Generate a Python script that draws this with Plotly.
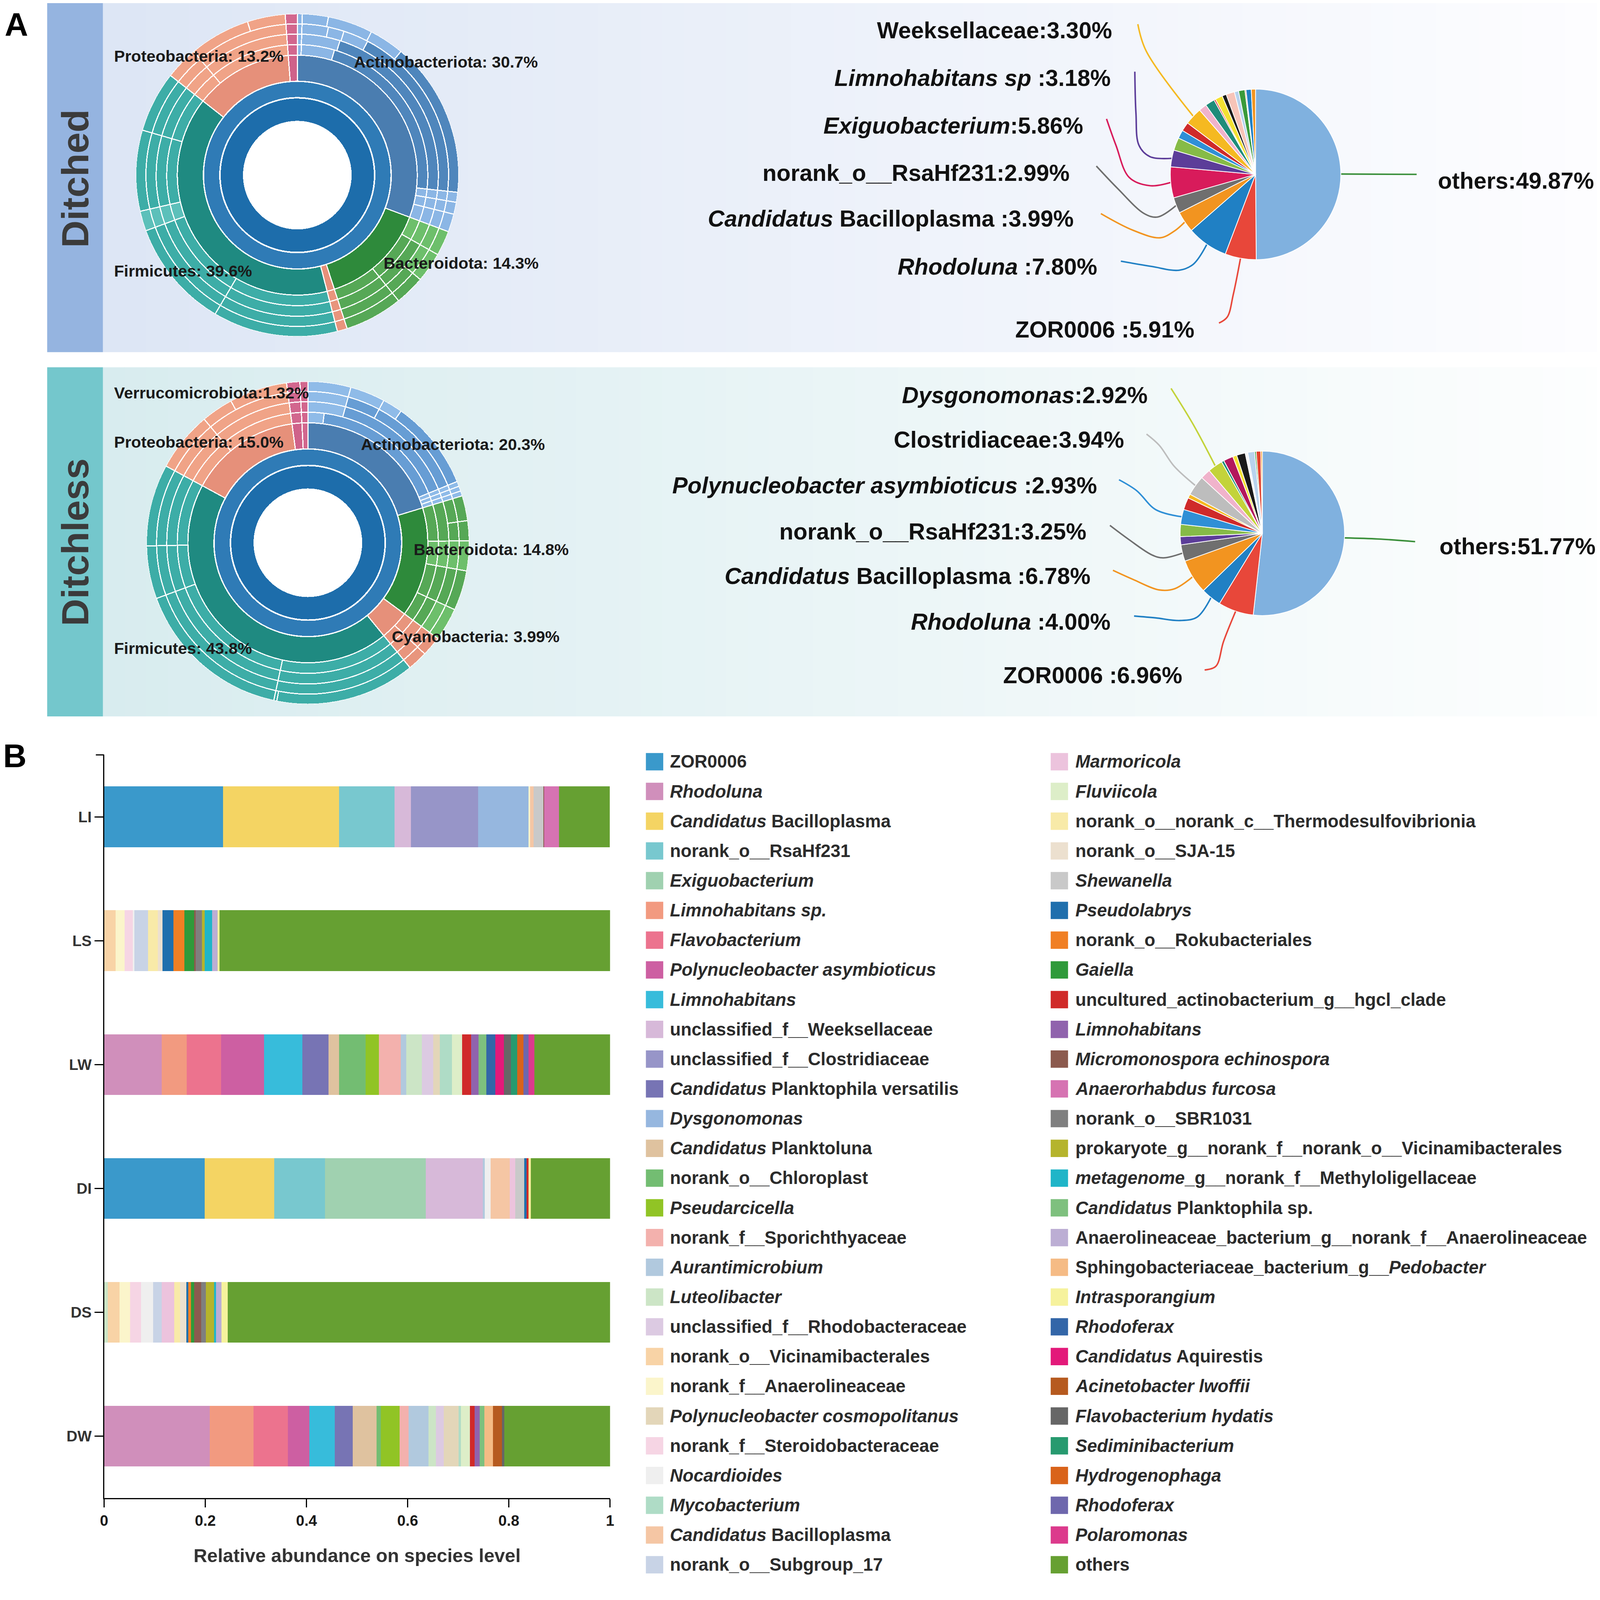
import math
import plotly.graph_objects as go

W, H = 4239, 4187          # reference pixel frame used for all geometry below
S = 4096 / 4239            # css-pixel scale of the browser viewport
PAGE_MARGIN = 8            # default body margin of the html page (css px)
FIG_W = 4096 - PAGE_MARGIN
FIG_H = round(H * S) - PAGE_MARGIN
X_GAIN, X_OFF = 0.9951, 8.4   # measured horizontal mapping of the screenshot

# =============================== DATA ===============================
# ---- Panel A: phylum composition (percent), clockwise from 12 o'clock
PHYLA = ["Actinobacteriota", "Bacteroidota", "Cyanobacteria", "Firmicutes",
         "Proteobacteria", "Verrucomicrobiota", "Unassigned"]
DITCHED_PHYLUM_PCT = [30.7, 14.3, 1.0, 39.6, 13.2, 1.2, 0.0]
DITCHLESS_PHYLUM_PCT = [20.3, 14.8, 3.99, 43.8, 15.0, 1.32, 0.79]

# sub-divisions of every phylum in the four outer (lower-rank) rings, percent
DITCHED_OUTER = {
    "Actinobacteriota": [[0.5, 4.1, 22.1, 1.0, 1.2, 1.8],
                         [0.5, 4.4, 21.8, 1.0, 1.2, 1.8],
                         [0.5, 2.8, 1.7, 2.7, 19.0, 1.0, 1.2, 1.8],
                         [0.5, 2.6, 4.5, 3.5, 15.6, 1.0, 1.2, 1.8]],
    "Bacteroidota": [[2.5, 6.0, 5.8], [2.5, 6.0, 5.8],
                     [2.5, 3.0, 3.0, 5.8], [2.5, 3.0, 3.0, 5.8]],
    "Cyanobacteria": [[1.0], [1.0], [1.0], [1.0]],
    "Firmicutes": [[12.5, 10.9, 2.0, 8.1, 6.1], [12.5, 10.9, 2.0, 8.1, 6.1],
                   [12.5, 10.9, 2.0, 8.1, 6.1], [12.5, 10.9, 2.0, 8.1, 6.1]],
    "Proteobacteria": [[3.3, 9.9], [3.3, 9.9], [3.3, 9.9], [3.3, 6.1, 3.8]],
    "Verrucomicrobiota": [[1.2], [1.2], [1.2], [1.2]],
    "Unassigned": [[0.0], [0.0], [0.0], [0.0]],
}
DITCHLESS_OUTER = {
    "Actinobacteriota": [[2.0, 16.8, 0.5, 0.5, 0.5],
                         [4.3, 14.5, 0.5, 0.5, 0.5],
                         [4.3, 3.5, 11.0, 0.5, 0.5, 0.5],
                         [4.3, 3.5, 2.0, 9.0, 0.5, 0.5, 0.5]],
    "Bacteroidota": [[4.5, 3.0, 4.0, 3.3], [4.5, 3.0, 4.0, 3.3],
                     [2.5, 2.0, 3.0, 4.0, 3.3], [2.5, 2.0, 3.0, 4.0, 3.3]],
    "Cyanobacteria": [[2.0, 1.99], [2.0, 1.99], [2.0, 1.99], [2.0, 1.99]],
    "Firmicutes": [[14.3, 16.0, 5.3, 8.2], [14.3, 16.0, 5.3, 8.2],
                   [14.3, 16.0, 5.3, 8.2], [14.0, 0.3, 16.0, 5.3, 8.2]],
    "Proteobacteria": [[6.0, 9.0], [6.0, 9.0], [6.0, 9.0], [6.0, 3.2, 5.8]],
    "Verrucomicrobiota": [[1.32], [1.32], [1.32], [1.32]],
    "Unassigned": [[0.79], [0.79], [0.79], [0.79]],
}

DITCHED_TAGS = ["Proteobacteria: 13.2%", "Actinobacteriota: 30.7%",
                "Firmicutes: 39.6%", "Bacteroidota: 14.3%"]
DITCHLESS_TAGS = ["Verrucomicrobiota:1.32%", "Proteobacteria: 15.0%",
                  "Actinobacteriota: 20.3%", "Bacteroidota: 14.8%",
                  "Cyanobacteria: 3.99%", "Firmicutes: 43.8%"]

# ---- Panel A: species pies (percent), clockwise from 12 o'clock
DITCHED_PIE_VALUES = [49.87, 5.91, 7.80, 3.99, 2.99, 5.86, 3.18, 2.4, 1.6, 1.7, 3.30,
                      1.5, 1.8, 0.3, 1.4, 0.8, 1.6, 0.8, 1.2, 0.2, 1.0, 0.8]
DITCHED_PIE_NAMES = {0: "others:", 1: "ZOR0006 :", 2: "<i>Rhodoluna</i> :",
                     3: "<i>Candidatus</i> Bacilloplasma :", 4: "norank_o__RsaHf231:",
                     5: "<i>Exiguobacterium</i>:", 6: "<i>Limnohabitans sp</i> :",
                     10: "Weeksellaceae:"}
DITCHLESS_PIE_VALUES = [51.77, 6.96, 4.00, 6.78, 3.25, 1.6, 2.4, 2.93, 2.4, 0.8, 3.94,
                        2.0, 2.92, 0.5, 1.9, 0.8, 1.7, 0.5, 1.35, 0.3, 0.9, 0.3]
DITCHLESS_PIE_NAMES = {0: "others:", 1: "ZOR0006 :", 2: "<i>Rhodoluna</i> :",
                       3: "<i>Candidatus</i> Bacilloplasma :", 4: "norank_o__RsaHf231:",
                       7: "<i>Polynucleobacter asymbioticus</i> :",
                       10: "Clostridiaceae:", 12: "<i>Dysgonomonas</i>:"}

# ---- Panel B: relative abundance on species level
SAMPLES = ["LI", "LS", "LW", "DI", "DS", "DW"]
SPECIES_LABELS = [
    "ZOR0006", "<i>Rhodoluna</i>", "<i>Candidatus</i> Bacilloplasma", "norank_o__RsaHf231",
    "<i>Exiguobacterium</i>", "<i>Limnohabitans sp.</i>", "<i>Flavobacterium</i>",
    "<i>Polynucleobacter asymbioticus</i>", "<i>Limnohabitans</i>",
    "unclassified_f__Weeksellaceae", "unclassified_f__Clostridiaceae",
    "<i>Candidatus</i> Planktophila versatilis", "<i>Dysgonomonas</i>",
    "<i>Candidatus</i> Planktoluna", "norank_o__Chloroplast", "<i>Pseudarcicella</i>",
    "norank_f__Sporichthyaceae", "<i>Aurantimicrobium</i>", "<i>Luteolibacter</i>",
    "unclassified_f__Rhodobacteraceae", "norank_o__Vicinamibacterales",
    "norank_f__Anaerolineaceae", "<i>Polynucleobacter cosmopolitanus</i>",
    "norank_f__Steroidobacteraceae", "<i>Nocardioides</i>", "<i>Mycobacterium</i>",
    "<i>Candidatus</i> Bacilloplasma", "norank_o__Subgroup_17",
    "<i>Marmoricola</i>", "<i>Fluviicola</i>", "norank_o__norank_c__Thermodesulfovibrionia",
    "norank_o__SJA-15", "<i>Shewanella</i>", "<i>Pseudolabrys</i>",
    "norank_o__Rokubacteriales", "<i>Gaiella</i>",
    "uncultured_actinobacterium_g__hgcl_clade", "<i>Limnohabitans</i>",
    "<i>Micromonospora echinospora</i>", "<i>Anaerorhabdus furcosa</i>", "norank_o__SBR1031",
    "prokaryote_g__norank_f__norank_o__Vicinamibacterales",
    "<i>metagenome</i>_g__norank_f__Methyloligellaceae", "<i>Candidatus</i> Planktophila sp.",
    "Anaerolineaceae_bacterium_g__norank_f__Anaerolineaceae",
    "Sphingobacteriaceae_bacterium_g__<i>Pedobacter</i>", "<i>Intrasporangium</i>",
    "<i>Rhodoferax</i>", "<i>Candidatus</i> Aquirestis", "<i>Acinetobacter lwoffii</i>",
    "<i>Flavobacterium hydatis</i>", "<i>Sediminibacterium</i>", "<i>Hydrogenophaga</i>",
    "<i>Rhodoferax</i>", "<i>Polaromonas</i>", "others"]

# abundance per sample, keyed by 1-based legend position
ABUND_LI = {1: 0.2347, 3: 0.2297, 4: 0.1098, 10: 0.0321, 11: 0.1327, 13: 0.0999, 22: 0.003,
            27: 0.007, 33: 0.019, 39: 0.002, 40: 0.029, 56: 0.1006}
ABUND_LS = {21: 0.0228, 22: 0.0178, 24: 0.0157, 25: 0.0036, 28: 0.0271, 31: 0.0193,
            32: 0.0093, 34: 0.0214, 35: 0.0214, 36: 0.0193, 39: 0.0036, 41: 0.0121,
            42: 0.0057, 43: 0.0143, 45: 0.0107, 47: 0.0043, 56: 0.7718}
ABUND_LW = {2: 0.1141, 6: 0.0492, 7: 0.0678, 8: 0.0849, 9: 0.0756, 12: 0.0521, 14: 0.0207,
            15: 0.0521, 16: 0.0264, 17: 0.0435, 18: 0.0107, 19: 0.0307, 20: 0.0228,
            23: 0.0128, 26: 0.0243, 30: 0.02, 37: 0.0178, 38: 0.0143, 44: 0.0157,
            48: 0.0178, 49: 0.0171, 51: 0.0136, 52: 0.0128, 53: 0.0121, 54: 0.01,
            55: 0.0114, 56: 0.1498}
ABUND_DI = {1: 0.199, 3: 0.137, 4: 0.1006, 5: 0.199, 10: 0.1127, 18: 0.0043, 25: 0.0114,
            27: 0.0378, 29: 0.0107, 33: 0.0178, 34: 0.0043, 37: 0.0043, 47: 0.0043,
            56: 0.1569}
ABUND_DS = {19: 0.0071, 21: 0.0235, 22: 0.0207, 24: 0.0214, 25: 0.0243, 28: 0.0171,
            29: 0.0243, 31: 0.0114, 32: 0.0128, 34: 0.0036, 35: 0.0057, 36: 0.0057,
            39: 0.0143, 41: 0.0093, 42: 0.0164, 43: 0.0036, 45: 0.0107, 47: 0.0121,
            56: 0.7561}
ABUND_DW = {2: 0.209, 6: 0.0863, 7: 0.0678, 8: 0.0428, 9: 0.0499, 12: 0.0357, 14: 0.0471,
            15: 0.0086, 16: 0.0371, 17: 0.0178, 18: 0.0392, 19: 0.0143, 20: 0.0157,
            23: 0.0292, 26: 0.005, 30: 0.0178, 37: 0.0086, 38: 0.0107, 44: 0.0093,
            46: 0.0164, 50: 0.0178, 51: 0.005, 56: 0.209}
ABUNDANCE = {"LI": ABUND_LI, "LS": ABUND_LS, "LW": ABUND_LW,
             "DI": ABUND_DI, "DS": ABUND_DS, "DW": ABUND_DW}
X_TICKS = [0, 0.2, 0.4, 0.6, 0.8, 1]
X_TICK_TEXT = ["0", "0.2", "0.4", "0.6", "0.8", "1"]

# =============================== STYLE ===============================
FONT = "Liberation Sans"
INK = "#1a1a1a"

SPECIES_COLORS = [
    "#3a99cb", "#d08fbb", "#f4d463", "#78c8cf", "#a0d1b0", "#f29a80", "#ec738e", "#cd5fa2",
    "#37bcdb", "#d7b9d9", "#9795c8", "#7774b4", "#96b7df", "#dfc29f", "#73bd72", "#91c425",
    "#f3b1ad", "#b1c9de", "#cce5c6", "#dccae2", "#f8d3a6", "#fbf5cb", "#e3d6b9", "#f6d5e4",
    "#efefef", "#afdcc6", "#f5c6a4", "#c8d3e6",
    "#ecc3dd", "#ddeec8", "#f8eaa8", "#ece0cf", "#c9c9c9", "#1f6fad", "#f07f24", "#2f9a3a",
    "#d02a29", "#9063ad", "#8c5a4e", "#d673b2", "#7f7f7f", "#b5b42c", "#20b5c8", "#7ec07e",
    "#bcaed4", "#f5bb85", "#f6f29d", "#3366a8", "#e3197a", "#b65a1f", "#666666", "#279a6f",
    "#d9631a", "#6e67ad", "#dc3a8c", "#66a032"]

# tint flags for outer ring segments: 1 = lighter shade
DITCHED_TINT = {
    "Actinobacteriota": [[1, 1, 0, 1, 1, 1], [1, 1, 0, 1, 1, 1],
                         [1, 1, 1, 1, 0, 1, 1, 1], [1, 1, 1, 1, 0, 1, 1, 1]],
    "Bacteroidota": [[1, 0, 0], [1, 0, 0], [1, 1, 0, 0], [1, 1, 0, 0]],
    "Cyanobacteria": [[0]] * 4,
    "Firmicutes": [[0, 0, 1, 0, 0]] * 4,
    "Proteobacteria": [[0, 0], [0, 0], [0, 0], [0, 0, 0]],
    "Verrucomicrobiota": [[0]] * 4,
    "Unassigned": [[0]] * 4,
}
DITCHLESS_TINT = {
    "Actinobacteriota": [[1, 0, 1, 1, 1], [1, 0, 1, 1, 1],
                         [1, 0, 0, 1, 1, 1], [1, 1, 1, 0, 1, 1, 1]],
    "Bacteroidota": [[0, 1, 0, 0], [0, 1, 0, 0], [0, 0, 1, 0, 1], [0, 0, 1, 0, 1]],
    "Cyanobacteria": [[0, 0]] * 4,
    "Firmicutes": [[0, 0, 0, 0]] * 3 + [[0, 0, 0, 0, 0]],
    "Proteobacteria": [[0, 0], [0, 0], [0, 0], [0, 0, 0]],
    "Verrucomicrobiota": [[0]] * 4,
    "Unassigned": [[0]] * 4,
}
# (phylum ring colour, outer base colour, outer light colour)
DITCHED_PALETTE = {
    "Actinobacteriota": ("#4a7db0", "#4f86bc", "#8bb6e5"),
    "Bacteroidota": ("#2e8a3b", "#56a856", "#6dbf6b"),
    "Cyanobacteria": ("#e6907a", "#e8957d", "#e8957d"),
    "Firmicutes": ("#1f8a81", "#3dada7", "#5cc0ba"),
    "Proteobacteria": ("#e6907a", "#f0a387", "#f4b59c"),
    "Verrucomicrobiota": ("#cf628a", "#d2678e", "#d2678e"),
    "Unassigned": ("#d2678e", "#d2678e", "#d2678e"),
}
DITCHLESS_PALETTE = dict(DITCHED_PALETTE)
DITCHLESS_PALETTE["Actinobacteriota"] = ("#4a7db0", "#679dd4", "#8fbbe8")
INNER_RING_COLORS = ["#1d6dab", "#2f7bb6"]

# ring radii in reference pixels (inner, outer)
INNER_RINGS = [(144, 203), (207, 247)]
PHYLUM_RING = (249, 318)
OUTER_RINGS = [(318, 346), (346, 374), (374, 401), (401, 428)]
R_MAX = 428

PIE_TOP_COLORS = ["#80b1df", "#e8473a", "#2080c4", "#f29420", "#6f6f6f", "#d81b5b", "#5c3d99",
                  "#86bb47", "#2f8fd6", "#cf2a2a", "#f5b921", "#f0b3cb", "#1e8c7a", "#d42b2b",
                  "#f4e133", "#1a1a1a", "#f7c4b8", "#b8d3ee", "#3a9a3a", "#e2422d", "#2080c4",
                  "#f29420"]
PIE_BOT_COLORS = ["#80b1df", "#e8473a", "#2080c4", "#f29420", "#6f6f6f", "#5c3d99", "#86bb47",
                  "#2f8fd6", "#cf2a2a", "#f5b921", "#bdbdbd", "#f0b3cb", "#c3d33a", "#1e8c7a",
                  "#b3175c", "#f4e133", "#1a1a1a", "#f5f5f5", "#b8d3ee", "#3a9a3a", "#e2422d",
                  "#f29420"]
OTHERS_LEADER = "#3a8f3a"


def pxx(x):
    xi = (x - X_OFF) / X_GAIN
    return (xi * S - PAGE_MARGIN) / FIG_W


def pxy(y):
    return 1 - (y * S - PAGE_MARGIN) / FIG_H


def inv_pxx(p):
    xi = (p * FIG_W + PAGE_MARGIN) / S
    return xi * X_GAIN + X_OFF


def sz(v):
    return v * S


fig = go.Figure()
shapes = []
annotations = []

# ---------------- panel backgrounds ----------------
def gradient_panel(y0, y1, strip_color, c_left, c_right, n=70):
    shapes.append(dict(type="rect", xref="paper", yref="paper", layer="below",
                       x0=pxx(122), x1=pxx(270), y0=pxy(y1), y1=pxy(y0),
                       fillcolor=strip_color, line=dict(width=0)))
    x_start = 270
    step = (W + 20 - x_start) / n
    for i in range(n):
        t = i / (n - 1)
        c = tuple(int(round(c_left[k] + (c_right[k] - c_left[k]) * t)) for k in range(3))
        shapes.append(dict(type="rect", xref="paper", yref="paper", layer="below",
                           x0=pxx(x_start + i * step), x1=pxx(x_start + (i + 1) * step + 1),
                           y0=pxy(y1), y1=pxy(y0),
                           fillcolor="rgb(%d,%d,%d)" % c, line=dict(width=0)))


gradient_panel(5, 933, "#95b4e0", (221, 230, 245), (253, 253, 255))
gradient_panel(973, 1898, "#74c7cc", (216, 236, 239), (253, 254, 254))

# ---------------- sunbursts drawn with barpolar ----------------
def sunburst(phylum_pct, outer, tint, palette, subplot):
    total = sum(phylum_pct)
    k = 360.0 / total

    def ring(values, colors, r0, r1, lw):
        theta, width, cols = [], [], []
        cum = 0.0
        for v, c in zip(values, colors):
            if v > 0:
                theta.append((cum + v / 2) * k)
                width.append(v * k)
                cols.append(c)
            cum += v
        fig.add_trace(go.Barpolar(
            theta=theta, width=width, base=[r0] * len(theta), r=[r1 - r0] * len(theta),
            marker=dict(color=cols, line=dict(color="white", width=sz(lw))),
            subplot=subplot, hoverinfo="skip", showlegend=False))

    for (r0, r1), col in zip(INNER_RINGS, INNER_RING_COLORS):
        ring([total], [col], r0, r1, 0)
    ring(phylum_pct, [palette[p][0] for p in PHYLA], PHYLUM_RING[0], PHYLUM_RING[1], 3)
    for j, (r0, r1) in enumerate(OUTER_RINGS):
        vals, cols = [], []
        for p in PHYLA:
            for v, t in zip(outer[p][j], tint[p][j]):
                vals.append(v)
                cols.append(palette[p][2] if t else palette[p][1])
        ring(vals, cols, r0, r1, 3)


sunburst(DITCHED_PHYLUM_PCT, DITCHED_OUTER, DITCHED_TINT, DITCHED_PALETTE, "polar")
sunburst(DITCHLESS_PHYLUM_PCT, DITCHLESS_OUTER, DITCHLESS_TINT, DITCHLESS_PALETTE, "polar2")


def polar_layout(cx, cy):
    return dict(domain=dict(x=[pxx(cx - R_MAX), pxx(cx + R_MAX)],
                            y=[pxy(cy + R_MAX), pxy(cy - R_MAX)]),
                bgcolor="white", hole=0,
                radialaxis=dict(visible=False, range=[0, R_MAX]),
                angularaxis=dict(visible=False, rotation=90, direction="clockwise"))


SUN_TOP = (785, 464)
SUN_BOT = (813, 1438)


def label(text, x, y, size, color=INK, xanchor="left", angle=0):
    annotations.append(dict(text=text, x=pxx(x), y=pxy(y), xref="paper", yref="paper",
                            xanchor=xanchor, yanchor="middle", showarrow=False,
                            textangle=angle,
                            font=dict(family=FONT, size=sz(size), color=color,
                                      weight="bold")))


for txt, (x, y) in zip(DITCHED_TAGS, [(297, 148), (933, 164), (297, 718), (1012, 697)]):
    label(txt, x, y, 43)
for txt, (x, y) in zip(DITCHLESS_TAGS, [(297, 1041), (297, 1171), (952, 1177),
                                        (1091, 1456), (1033, 1686), (297, 1717)]):
    label(txt, x, y, 43)

label("Ditched", 196, 473, 100, "#3b3b3b", "center", -90)
label("Ditchless", 196, 1436, 100, "#3b3b3b", "center", -90)
label("A", 40, 66, 86, "#000000", "center")
label("B", 36, 2003, 86, "#000000", "center")

# ---------------- pies ----------------
PIE_TOP = dict(cx=3325, cy=462, r=226)
PIE_BOT = dict(cx=3343, cy=1413, r=218)

CALLOUT_TOP = {10: (2947, 80), 6: (2943, 206), 5: (2870, 333), 4: (2834, 458),
               3: (2845, 579), 2: (2907, 706), 1: (3165, 873), 0: (3806, 479)}
VIA_TOP = {10: [(3035, 135), (3013, 64)],
           6: [(3045, 415), (3016, 385), (3008, 300), (3005, 190)],
           5: [(3045, 492), (2990, 470), (2955, 385), (2930, 315)],
           4: [(3065, 575), (3030, 566), (2960, 500), (2903, 440)],
           3: [(3110, 612), (3072, 630), (3000, 610), (2915, 566)],
           2: [(3160, 700), (3122, 716), (3050, 706), (2968, 692)],
           1: [(3266, 780), (3250, 840), (3228, 856)],
           0: [(3752, 462)]}
CALLOUT_BOT = {12: (3041, 1047), 10: (2979, 1165), 7: (2906, 1286), 4: (2879, 1408),
               3: (2890, 1526), 2: (2943, 1647), 1: (3133, 1789), 0: (3810, 1447)}
VIA_BOT = {12: [(3160, 1125), (3101, 1029)],
           10: [(3109, 1235), (3070, 1180), (3036, 1150)],
           7: [(3060, 1350), (3010, 1300), (2963, 1271)],
           4: [(3080, 1478), (3050, 1470), (2990, 1430), (2939, 1392)],
           3: [(3110, 1560), (3070, 1563), (3000, 1535), (2947, 1511)],
           2: [(3170, 1635), (3125, 1644), (3060, 1637), (3003, 1632)],
           1: [(3240, 1700), (3220, 1765), (3190, 1775)],
           0: [(3650, 1428), (3748, 1435)]}


def pie(values, colors, names, geo, callouts, vias):
    cx, cy, r = geo["cx"], geo["cy"], geo["r"]
    fig.add_trace(go.Pie(
        values=values, labels=["taxon %d" % i for i in range(len(values))],
        marker=dict(colors=colors, line=dict(color="white", width=sz(2))),
        sort=False, direction="clockwise", rotation=0, textinfo="none",
        hoverinfo="skip", showlegend=False,
        domain=dict(x=[pxx(cx - r), pxx(cx + r)], y=[pxy(cy + r), pxy(cy - r)])))
    total = sum(values)
    cum = 0.0
    mids = []
    for v in values:
        mids.append((cum + v / 2) / total * 2 * math.pi)
        cum += v
    for idx, prefix in names.items():
        a = mids[idx]
        sx, sy = cx + r * math.sin(a), cy - r * math.cos(a)
        pts = [(sx, sy)] + vias[idx]
        col = OTHERS_LEADER if idx == 0 else colors[idx]
        fig.add_trace(go.Scatter(
            x=[p[0] for p in pts], y=[p[1] for p in pts], mode="lines",
            line=dict(color=col, width=sz(4), shape="spline", smoothing=1.0),
            xaxis="x2", yaxis="y2", hoverinfo="skip", showlegend=False))
        lx, ly = callouts[idx]
        label(prefix + "%.2f%%" % values[idx], lx, ly, 61, "#111111",
              "left" if idx == 0 else "right")


pie(DITCHED_PIE_VALUES, PIE_TOP_COLORS, DITCHED_PIE_NAMES, PIE_TOP, CALLOUT_TOP, VIA_TOP)
pie(DITCHLESS_PIE_VALUES, PIE_BOT_COLORS, DITCHLESS_PIE_NAMES, PIE_BOT, CALLOUT_BOT, VIA_BOT)

# ---------------- panel B: stacked bars ----------------
for i, (name, color) in enumerate(zip(SPECIES_LABELS, SPECIES_COLORS)):
    fig.add_trace(go.Bar(
        y=SAMPLES, x=[ABUNDANCE[s].get(i + 1, 0.0) for s in SAMPLES], orientation="h",
        name=name, marker=dict(color=color, line=dict(width=0)),
        xaxis="x", yaxis="y", showlegend=False, hoverinfo="skip"))

AX_X0, AX_X1, AX_Y0, AX_Y1 = 273, 1614, 2000, 3969

# two-column legend
ROW0, ROW_STEP, SQ = 2018, 78.8, 46
for i, (name, color) in enumerate(zip(SPECIES_LABELS, SPECIES_COLORS)):
    col, row = divmod(i, 28)
    sq_x = 1709 if col == 0 else 2782
    tx = 1771 if col == 0 else 2845
    yc = ROW0 + row * ROW_STEP
    shapes.append(dict(type="rect", xref="paper", yref="paper",
                       x0=pxx(sq_x), x1=pxx(sq_x + SQ), y0=pxy(yc + SQ / 2), y1=pxy(yc - SQ / 2),
                       fillcolor=color, line=dict(width=0)))
    label(name, tx, yc, 47, "#2b2b2b")

# small cap at the top of the y axis
shapes.append(dict(type="line", xref="paper", yref="paper",
                   x0=pxx(AX_X0 - 22), x1=pxx(AX_X0), y0=pxy(AX_Y0), y1=pxy(AX_Y0),
                   line=dict(color="#000000", width=sz(3))))

fig.update_layout(
    width=FIG_W, height=FIG_H, margin=dict(l=0, r=0, t=0, b=0),
    paper_bgcolor="white", plot_bgcolor="rgba(0,0,0,0)",
    barmode="stack", bargap=0.51, showlegend=False,
    font=dict(family=FONT),
    polar=polar_layout(*SUN_TOP), polar2=polar_layout(*SUN_BOT),
    xaxis=dict(domain=[pxx(AX_X0), pxx(AX_X1)], range=[0, 1], anchor="y",
               tickvals=X_TICKS, ticktext=X_TICK_TEXT, showgrid=False, zeroline=False,
               showline=True, linecolor="#000000", linewidth=sz(3),
               ticks="outside", ticklen=sz(22), tickwidth=sz(3), tickcolor="#000000",
               tickfont=dict(family=FONT, size=sz(40), color="#1a1a1a", weight="bold"),
               title=dict(text="Relative abundance on species level", standoff=sz(55),
                          font=dict(family=FONT, size=sz(50), color="#333333",
                                    weight="bold"))),
    yaxis=dict(domain=[pxy(AX_Y1), pxy(AX_Y0)], type="category",
               categoryorder="array", categoryarray=SAMPLES, range=[5.5, -0.5], anchor="x",
               showgrid=False, zeroline=False, showline=True, linecolor="#000000",
               linewidth=sz(3), ticks="outside", ticklen=sz(22), tickwidth=sz(3),
               tickcolor="#000000",
               tickfont=dict(family=FONT, size=sz(40), color="#333333", weight="bold")),
    xaxis2=dict(domain=[0, 1], range=[inv_pxx(0), inv_pxx(1)],
                visible=False, anchor="y2", fixedrange=True),
    yaxis2=dict(domain=[0, 1], range=[(FIG_H + PAGE_MARGIN) / S, PAGE_MARGIN / S],
                visible=False, anchor="x2", fixedrange=True),
    shapes=shapes, annotations=annotations,
)

fig.write_html("out.html")
